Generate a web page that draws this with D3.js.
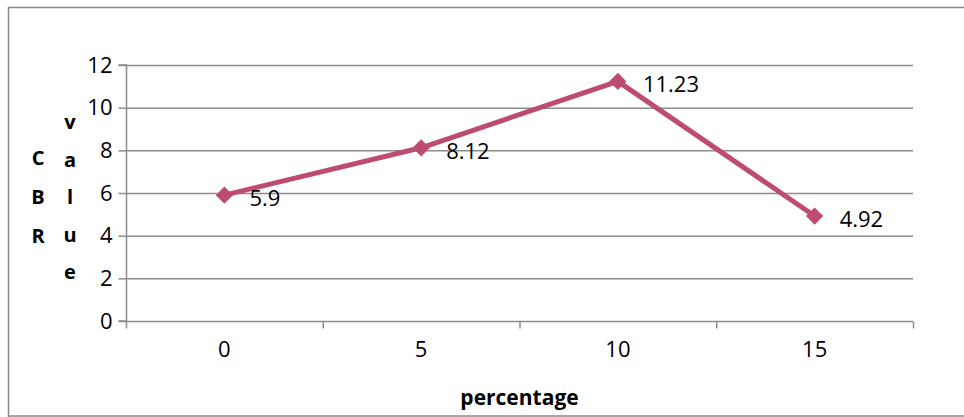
<!DOCTYPE html>
<html><head><meta charset="utf-8">
<script src="https://cdn.jsdelivr.net/npm/d3@7"></script>
<style>body{margin:0;background:#fff}svg{display:block}</style>
</head><body>
<svg id="c" width="964" height="417"></svg>
<script>
const categories = ["0", "5", "10", "15"];
const values = [5.9, 8.12, 11.23, 4.92];
const labels = ["5.9", "8.12", "11.23", "4.92"];
const yTicks = [0, 2, 4, 6, 8, 10, 12];
const xTitle = "percentage";
const yTitleCol1 = ["C", "B", "R"];
const yTitleCol2 = ["v", "a", "l", "u", "e"];

const svg = d3.select("#c");
const font = "'Open Sans', 'Noto Sans', sans-serif";
const fs = 22;
// outer border
svg.append("path").attr("d", "M8.5,417 V7.5 H964").attr("fill", "none").attr("stroke", "#888").attr("stroke-width", 1.5);
svg.append("line").attr("x1", 8).attr("x2", 964).attr("y1", 416).attr("y2", 416).attr("stroke", "#888").attr("stroke-width", 1.5);

const L = 126, R = 913, T = 65, B = 321;
const x = d3.scaleBand().domain(categories).range([L, R]).padding(0);
const y = d3.scaleLinear().domain([0, 12]).range([B, T]);

// gridlines
svg.append("g").selectAll("line").data(yTicks.filter(d => d > 0)).join("line")
  .attr("x1", L).attr("x2", R).attr("y1", d => y(d) + 0.5).attr("y2", d => y(d) + 0.5)
  .attr("stroke", "#8c8c8c").attr("stroke-width", 1.5);

// y axis
const yAx = svg.append("g").attr("transform", `translate(${L + 0.5},0)`)
  .call(d3.axisLeft(y).tickValues(yTicks).tickSize(8).tickPadding(6).tickFormat(d3.format("d")));
yAx.select(".domain").attr("stroke", "#8c8c8c").attr("stroke-width", 1.5).attr("d", `M-8,${T}H0V${B}H-8`);
yAx.selectAll(".tick line").attr("stroke", "#8c8c8c").attr("stroke-width", 1.5);
yAx.selectAll(".tick text").attr("font-family", font).attr("font-size", fs).attr("fill", "#000").attr("dy", "0.33em");

// x axis
const xAx = svg.append("g").attr("transform", `translate(0,${B + 0.5})`)
  .call(d3.axisBottom(x).tickSize(0).tickPadding(20));
xAx.select(".domain").attr("stroke", "#8c8c8c").attr("stroke-width", 1.5).attr("d", `M${L},0H${R}`);
const bounds = [L].concat(categories.map(c => x(c) + x.bandwidth()));
xAx.selectAll(".bnd").data(bounds).join("line").attr("class", "bnd")
  .attr("x1", d => d + 0.5).attr("x2", d => d + 0.5).attr("y1", 0).attr("y2", 7)
  .attr("stroke", "#8c8c8c").attr("stroke-width", 1.5);
xAx.selectAll(".tick text").attr("font-family", font).attr("font-size", fs).attr("fill", "#000");

// titles
svg.append("text").attr("x", (L + R) / 2).attr("y", 405).attr("text-anchor", "middle")
  .attr("font-family", font).attr("font-size", 21).attr("font-weight", "bold").text(xTitle);
svg.append("g").selectAll("text").data(yTitleCol1).join("text")
  .attr("x", 38).attr("y", (d, i) => 165 + i * 39).attr("text-anchor", "middle")
  .attr("font-family", font).attr("font-size", 20).attr("font-weight", "bold").text(d => d);
svg.append("g").selectAll("text").data(yTitleCol2).join("text")
  .attr("x", 70).attr("y", (d, i) => 129 + i * 37.5).attr("text-anchor", "middle")
  .attr("font-family", font).attr("font-size", 20).attr("font-weight", "bold").text(d => d);

// line
const color = "#BE4B72";
const cx = (d, i) => x(categories[i]) + x.bandwidth() / 2;
svg.append("path").datum(values)
  .attr("d", d3.line().x((d, i) => cx(d, i)).y(d => y(d)))
  .attr("fill", "none").attr("stroke", color).attr("stroke-width", 5).attr("stroke-linejoin", "round");
svg.append("g").selectAll("path").data(values).join("path")
  .attr("transform", (d, i) => `translate(${cx(d, i)},${y(d)})`)
  .attr("d", d3.symbol(d3.symbolDiamond2, 190)).attr("fill", color);
svg.append("g").selectAll("text").data(values).join("text")
  .attr("x", (d, i) => cx(d, i) + 25).attr("y", d => y(d) + 11)
  .attr("font-family", font).attr("font-size", fs).attr("fill", "#000").text((d, i) => labels[i]);
</script>
</body></html>
